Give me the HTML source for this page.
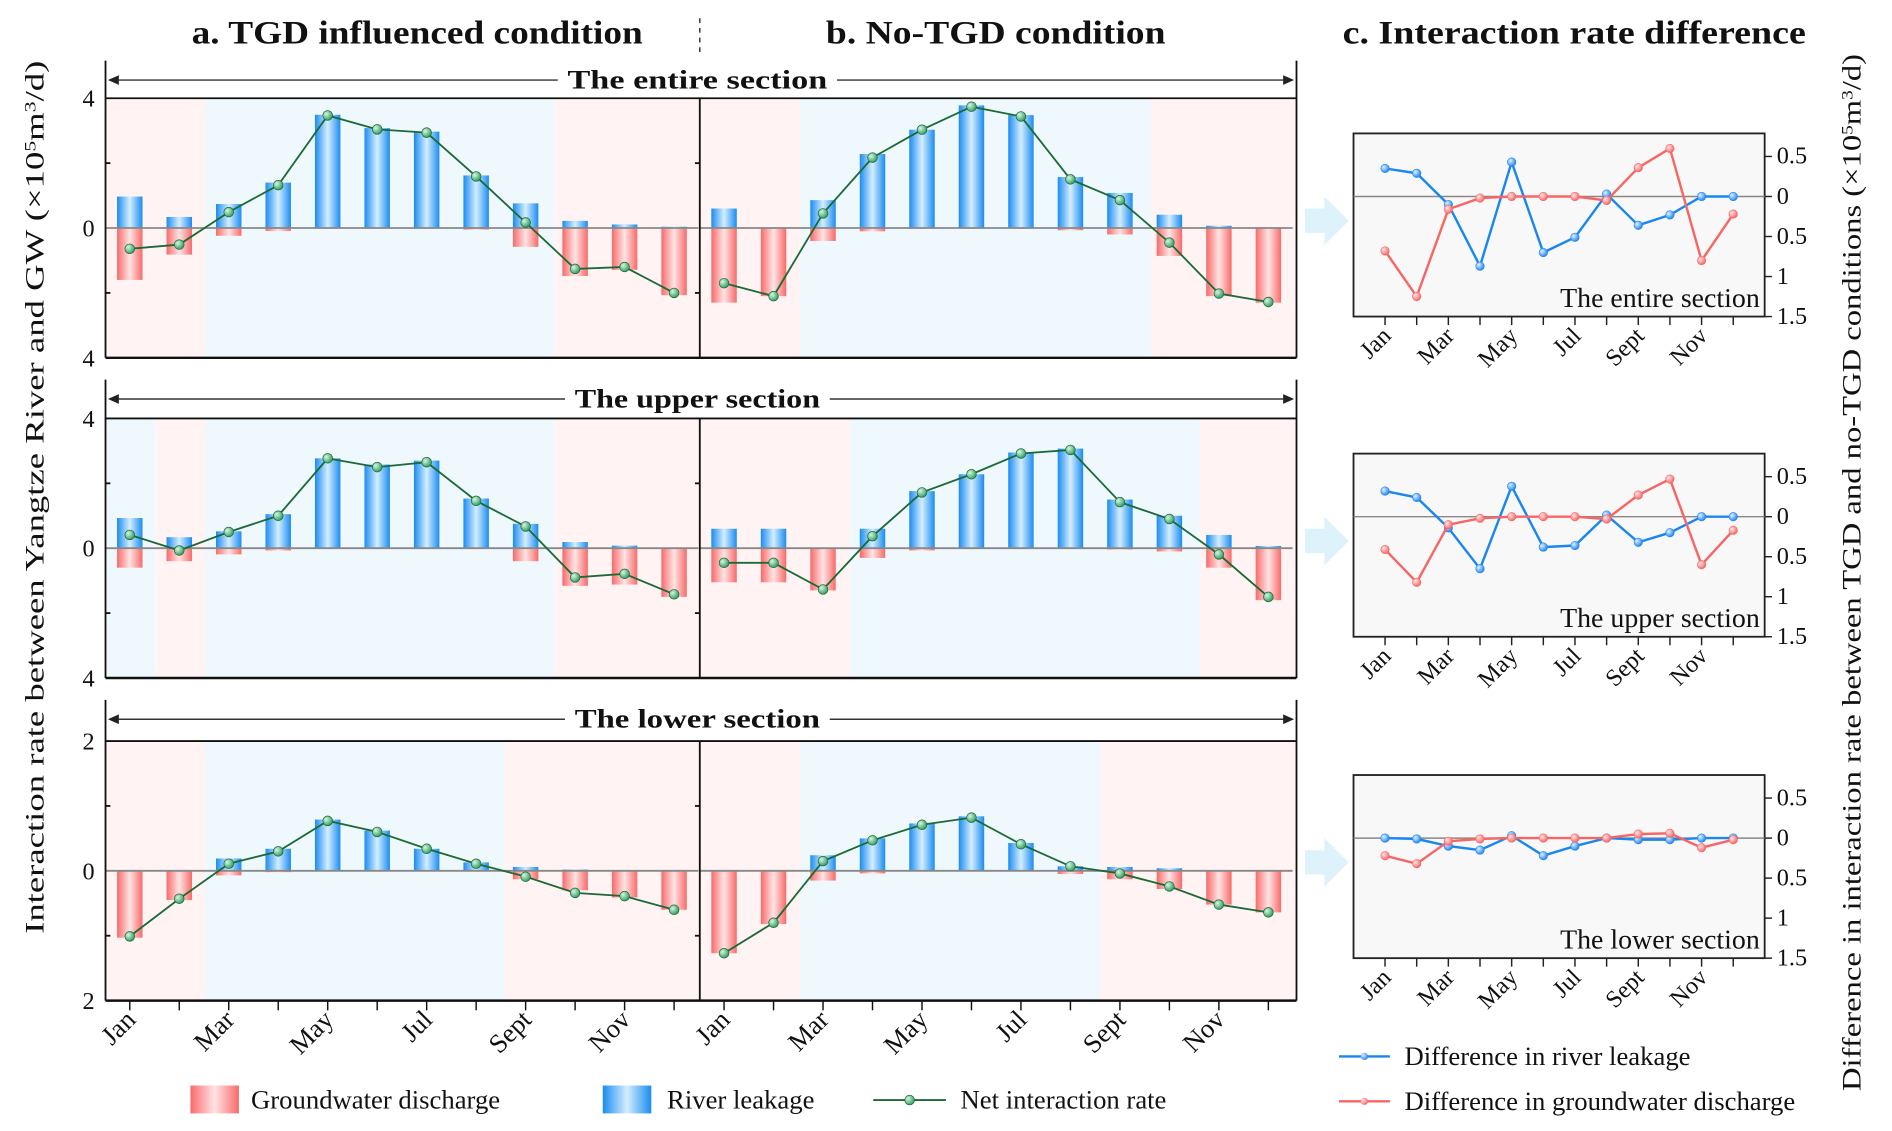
<!DOCTYPE html>
<html><head><meta charset="utf-8"><style>
html,body{margin:0;padding:0;background:#fff;}
svg{display:block;}
text{font-family:"Liberation Serif",serif;fill:#111;}
</style></head><body>
<svg id="chart" width="1892" height="1131" viewBox="0 0 1560 932.5" preserveAspectRatio="none" xmlns="http://www.w3.org/2000/svg">
<defs>
<linearGradient id="gBlue" x1="0" x2="1" y1="0" y2="0"><stop offset="0" stop-color="#1a8cf0"/><stop offset="0.5" stop-color="#d4eeff"/><stop offset="1" stop-color="#1a8cf0"/></linearGradient>
<linearGradient id="gPink" x1="0" x2="1" y1="0" y2="0"><stop offset="0" stop-color="#f86a6a"/><stop offset="0.5" stop-color="#ffe4e4"/><stop offset="1" stop-color="#f86a6a"/></linearGradient>
<radialGradient id="gDot" cx="0.35" cy="0.35" r="0.7"><stop offset="0" stop-color="#d8f5e4"/><stop offset="1" stop-color="#2a9a5a"/></radialGradient>
<radialGradient id="gDotB" cx="0.35" cy="0.35" r="0.7"><stop offset="0" stop-color="#e0f0ff"/><stop offset="1" stop-color="#1a80f0"/></radialGradient>
<radialGradient id="gDotR" cx="0.35" cy="0.35" r="0.7"><stop offset="0" stop-color="#ffe6e6"/><stop offset="1" stop-color="#f76060"/></radialGradient>
</defs>
<g id="root"></g>
</svg>
<script>
// ---------- data ----------
const months = ["Jan","Feb","Mar","Apr","May","Jun","Jul","Aug","Sept","Oct","Nov","Dec"];
const monthLabels = ["Jan","","Mar","","May","","Jul","","Sept","","Nov",""];
const leftTickLabelsBig = ["4","0","4"];
const leftTickLabelsSmall = ["2","0","2"];
const diffTickLabels = ["0.5","0","0.5","1","1.5"];
const diffTickValues = [0.5,0,-0.5,-1,-1.5];

const entireTgdRiver = [0.97,0.34,0.74,1.4,3.49,3.08,2.97,1.62,0.76,0.22,0.11,0.04];
const entireTgdGw = [-1.6,-0.82,-0.24,-0.09,-0.02,-0.02,-0.02,-0.05,-0.58,-1.48,-1.29,-2.07];
const entireTgdNet = [-0.64,-0.51,0.49,1.32,3.47,3.04,2.94,1.59,0.17,-1.26,-1.2,-2.0];
const entireNoRiver = [0.6,0.02,0.86,2.28,3.03,3.78,3.48,1.57,1.08,0.41,0.07,0.02];
const entireNoGw = [-2.3,-2.1,-0.4,-0.1,-0.02,-0.02,-0.02,-0.07,-0.2,-0.86,-2.1,-2.3];
const entireNoNet = [-1.7,-2.1,0.45,2.17,3.03,3.74,3.44,1.5,0.86,-0.45,-2.02,-2.28];

const upperTgdRiver = [0.93,0.34,0.52,1.05,2.77,2.58,2.7,1.53,0.75,0.19,0.08,0.02];
const upperTgdGw = [-0.6,-0.4,-0.19,-0.07,-0.02,-0.02,-0.02,-0.02,-0.4,-1.16,-1.12,-1.5];
const upperTgdNet = [0.41,-0.07,0.5,1.0,2.77,2.5,2.65,1.46,0.67,-0.9,-0.79,-1.42];
const upperNoRiver = [0.6,0.6,0.02,0.6,1.76,2.28,2.95,3.07,1.5,1.0,0.41,0.07];
const upperNoGw = [-1.05,-1.05,-1.3,-0.3,-0.07,-0.02,-0.02,-0.02,-0.04,-0.1,-0.6,-1.6];
const upperNoNet = [-0.45,-0.45,-1.27,0.37,1.72,2.28,2.92,3.03,1.42,0.9,-0.19,-1.5];

const lowerTgdRiver = [0,0,0.19,0.34,0.79,0.62,0.34,0.13,0.06,0.02,0.01,0];
const lowerTgdGw = [-1.03,-0.45,-0.07,-0.02,-0.01,-0.01,-0.01,-0.01,-0.13,-0.3,-0.41,-0.6];
const lowerTgdNet = [-1.01,-0.43,0.11,0.3,0.77,0.6,0.34,0.11,-0.09,-0.34,-0.39,-0.6];
const lowerNoRiver = [0,0,0.24,0.5,0.73,0.84,0.43,0.07,0.06,0.04,0.01,0];
const lowerNoGw = [-1.27,-0.82,-0.15,-0.04,0,0,0,-0.05,-0.13,-0.28,-0.52,-0.64];
const lowerNoNet = [-1.27,-0.8,0.15,0.47,0.71,0.82,0.41,0.07,-0.04,-0.24,-0.52,-0.64];

const entireDiffRiver = [0.35,0.29,-0.1,-0.87,0.43,-0.7,-0.51,0.03,-0.36,-0.23,0,0];
const entireDiffGw = [-0.68,-1.25,-0.16,-0.02,0,0,0,-0.05,0.36,0.6,-0.8,-0.22];
const upperDiffRiver = [0.32,0.24,-0.14,-0.65,0.38,-0.38,-0.36,0.02,-0.32,-0.2,0,0];
const upperDiffGw = [-0.41,-0.82,-0.1,-0.02,0,0,0,-0.03,0.27,0.47,-0.6,-0.17];
const lowerDiffRiver = [0,-0.01,-0.1,-0.15,0.03,-0.22,-0.1,0,-0.02,-0.02,0,0];
const lowerDiffGw = [-0.22,-0.32,-0.04,-0.01,0,0,0,0,0.05,0.06,-0.12,-0.02];

// ---------- helpers ----------
const NS = "http://www.w3.org/2000/svg";
const root = document.getElementById('root');
function mk(tag, attrs, parent, txt){
  const e = document.createElementNS(NS, tag);
  for (const k in attrs) e.setAttribute(k, attrs[k]);
  if (txt !== undefined) e.textContent = txt;
  (parent || root).appendChild(e);
  return e;
}
const L = 87, M = 577, R = 1069;
const step = 40.8;
const barW = 21;

function bg(g, x1, x2, top, bot, color){
  const r = mk('rect',{x:x1,y:top,width:x2-x1,height:bot-top,fill:color},g);
  
  
}

function drawPanel(name, x0, zero, unit, river, gw, net){
  const g = mk('g',{},root);
  
  
  const xs = i => x0 + i*step;
  const ys = v => zero - v*unit;
  for (let i=0;i<12;i++){
    const hr = Math.abs(ys(river[i]) - zero);
    const b = mk('rect',{x:xs(i)-barW/2,y:Math.min(ys(river[i]),zero),width:barW,height:hr,fill:'url(#gBlue)'},g);
    
    
    const hg = Math.abs(ys(gw[i]) - zero);
    const p = mk('rect',{x:xs(i)-barW/2,y:Math.min(ys(gw[i]),zero),width:barW,height:hg,fill:'url(#gPink)'},g);
    
    
  }
  const zl = mk('line',{x1:x0-20,x2:x0+11*step+20,y1:zero,y2:zero,stroke:'#888','stroke-width':1.5},g);
  
  
  const pts = net.map((v,i)=>xs(i)+','+ys(v)).join(' ');
  const pl = mk('polyline',{points:pts,fill:'none',stroke:'#1c6a35','stroke-width':1.5},g);
  
  
  net.forEach((v,i)=>{
    const c = mk('circle',{cx:xs(i),cy:ys(v),r:4,fill:'url(#gDot)',stroke:'#1c6a35','stroke-width':0.6},g);
    
    
  });
}

function drawRow(label, arrowY, top, zero, bot, bandsA, bandsB, ticks, unit, data){
  const g = mk('g',{},root);
  
  
  bandsA.forEach(b=>bg(g,b[0],b[1],top,bot,b[2]));
  bandsB.forEach(b=>bg(g,b[0],b[1],top,bot,b[2]));
  drawPanel('tgd-panel', 107, zero, unit, data[0], data[1], data[2]);
  drawPanel('no-tgd-panel', 597, zero, unit, data[3], data[4], data[5]);
  const fr = mk('g',{stroke:'#111','stroke-width':1.5},root);
  
  
  mk('line',{x1:L,x2:R,y1:top,y2:top},fr);
  mk('line',{x1:L,x2:R,y1:bot,y2:bot,'stroke-width':2},fr);
  mk('line',{x1:L,x2:L,y1:arrowY-16,y2:bot},fr);
  mk('line',{x1:R,x2:R,y1:arrowY-16,y2:bot},fr);
  mk('line',{x1:M,x2:M,y1:top,y2:bot},fr);
  mk('line',{x1:L,x2:L+4,y1:(top+zero)/2,y2:(top+zero)/2},fr);
  mk('line',{x1:L,x2:L+4,y1:(bot+zero)/2,y2:(bot+zero)/2},fr);
  mk('line',{x1:M,x2:M-4,y1:(top+zero)/2,y2:(top+zero)/2},fr);
  mk('line',{x1:M,x2:M-4,y1:(bot+zero)/2,y2:(bot+zero)/2},fr);
  const tw = label.length*11.9;
  const ar = mk('g',{stroke:'#333','stroke-width':1.2},root);
  
  
  mk('line',{x1:L+4,x2:575-tw/2-8,y1:arrowY,y2:arrowY},ar);
  mk('line',{x1:575+tw/2+8,x2:R-4,y1:arrowY,y2:arrowY},ar);
  mk('path',{d:`M${L+2},${arrowY} l9,-4 v8 z`,fill:'#222',stroke:'none'},ar);
  mk('path',{d:`M${R-2},${arrowY} l-9,-4 v8 z`,fill:'#222',stroke:'none'},ar);
  const t = mk('text',{x:575,y:arrowY+7,'text-anchor':'middle','font-size':22,'font-weight':'bold',textLength:tw,lengthAdjust:'spacingAndGlyphs'},root,label);
  
  
  [top,zero,bot].forEach((y,i)=>{
    const tl = mk('text',{x:78,y:y+7,'text-anchor':'end','font-size':20},root,ticks[i]);
    
    
  });
}

const P='#fff3f3', B='#eff8fd';
drawRow('The entire section',66,81,188,295,[[87,169,P],[169,457,B],[457,577,P]],[[577,660,P],[660,949,B],[949,1069,P]],leftTickLabelsBig,26.75,
  [entireTgdRiver,entireTgdGw,entireTgdNet,entireNoRiver,entireNoGw,entireNoNet]);
drawRow('The upper section',329,345,452,559,[[87,128,B],[128,169,P],[169,457,B],[457,577,P]],[[577,701,P],[701,989,B],[989,1069,P]],leftTickLabelsBig,26.75,
  [upperTgdRiver,upperTgdGw,upperTgdNet,upperNoRiver,upperNoGw,upperNoNet]);
drawRow('The lower section',593,611,718,825,[[87,169,P],[169,416,B],[416,577,P]],[[577,660,P],[660,907,B],[907,1069,P]],leftTickLabelsSmall,53.5,
  [lowerTgdRiver,lowerTgdGw,lowerTgdNet,lowerNoRiver,lowerNoGw,lowerNoNet]);

[107,597].forEach(x0=>{
  for(let i=0;i<12;i++){
    const x = x0+i*step;
    const tk = mk('line',{x1:x,x2:x,y1:825,y2:833,stroke:'#111','stroke-width':1.2});
    
    
    if(monthLabels[i]){
      const t = mk('text',{x:x+6,y:842,'text-anchor':'end','font-size':22,transform:`rotate(-45 ${x+6} 842)`},root,monthLabels[i]);
      
      
    }
  }
});

[['a. TGD influenced condition',344,372],['b. No-TGD condition',821,280],['c. Interaction rate difference',1298,382]].forEach(d=>{
  const t = mk('text',{x:d[1],y:36,'text-anchor':'middle','font-size':27,'font-weight':'bold',textLength:d[2],lengthAdjust:'spacingAndGlyphs'},root,d[0]);
  
  
});
const dv = mk('line',{x1:577,x2:577,y1:15,y2:46,stroke:'#333','stroke-width':1.2,'stroke-dasharray':'4,4'});



const yt = mk('text',{x:36,y:410,'text-anchor':'middle','font-size':22,transform:'rotate(-90 36 410)',textLength:720,lengthAdjust:'spacingAndGlyphs'},root);


yt.innerHTML = 'Interaction  rate  between  Yangtze River and GW (×10<tspan baseline-shift="super" font-size="13">5</tspan>m<tspan baseline-shift="super" font-size="13">3</tspan>/d)';
const yt2 = mk('text',{x:1534,y:472,'text-anchor':'middle','font-size':22,transform:'rotate(-90 1534 472)',textLength:855,lengthAdjust:'spacingAndGlyphs'},root);


yt2.innerHTML = 'Difference in interaction rate between TGD and no-TGD conditions (×10<tspan baseline-shift="super" font-size="13">5</tspan>m<tspan baseline-shift="super" font-size="13">3</tspan>/d)';

function drawDiff(label, zero, blue, red){
  const g = mk('g',{},root);
  
  
  const unit = 66, x0 = 1142, st = 26.1;
  const top = zero-52, bot = zero+99;
  const xs = i=>x0+i*st, ys = v=>zero-v*unit;
  mk('rect',{x:1116,y:top,width:339,height:bot-top,fill:'#f8f8f8',stroke:'#222','stroke-width':1.5},g);
  mk('line',{x1:1116,x2:1455,y1:zero,y2:zero,stroke:'#888','stroke-width':1.2},g);
  diffTickValues.forEach((v,i)=>{
    mk('line',{x1:1455,x2:1461,y1:ys(v),y2:ys(v),stroke:'#222','stroke-width':1.2},g);
    const t = mk('text',{x:1465,y:ys(v)+6,'font-size':20},g,diffTickLabels[i]);
    
    
  });
  for(let i=0;i<12;i++){
    mk('line',{x1:xs(i),x2:xs(i),y1:bot,y2:bot+7,stroke:'#222','stroke-width':1.2},g);
    if(monthLabels[i]){
      const t = mk('text',{x:xs(i)+6,y:bot+17,'text-anchor':'end','font-size':20,transform:`rotate(-45 ${xs(i)+6} ${bot+17})`},g,monthLabels[i]);
      
      
    }
  }
  [[blue,'#1a86f0','url(#gDotB)','river-leakage-difference'],[red,'#f76565','url(#gDotR)','groundwater-discharge-difference']].forEach(s=>{
    const pl = mk('polyline',{points:s[0].map((v,i)=>xs(i)+','+ys(v)).join(' '),fill:'none',stroke:s[1],'stroke-width':2},g);
    
    
    s[0].forEach((v,i)=>{
      const c = mk('circle',{cx:xs(i),cy:ys(v),r:3.5,fill:s[2],stroke:s[1],'stroke-width':0.5},g);
      
      
    });
  });
  const t = mk('text',{x:1451,y:bot-8,'text-anchor':'end','font-size':23},g,label);
  
  
  const a = mk('path',{d:`M1076,${zero+10} h16 v-10 l20,20 l-20,20 v-10 h-16 z`,fill:'#ddf2fb'},root);
  
  
}
drawDiff('The entire section',162,entireDiffRiver,entireDiffGw);
drawDiff('The upper section',426,upperDiffRiver,upperDiffGw);
drawDiff('The lower section',691,lowerDiffRiver,lowerDiffGw);

function legend(){
  const g = mk('g',{},root);
  
  
  const s1 = mk('rect',{x:157,y:895,width:40,height:23,fill:'url(#gPink)'},g);
  
  
  mk('text',{x:207,y:914,'font-size':22},g,'Groundwater discharge');
  const s2 = mk('rect',{x:497,y:895,width:40,height:23,fill:'url(#gBlue)'},g);
  
  
  mk('text',{x:550,y:914,'font-size':22},g,'River leakage');
  const s3 = mk('line',{x1:720,x2:780,y1:907,y2:907,stroke:'#1c6a35','stroke-width':1.5},g);
  
  
  mk('circle',{cx:750,cy:907,r:4,fill:'url(#gDot)',stroke:'#1c6a35','stroke-width':0.6},g);
  mk('text',{x:792,y:914,'font-size':22},g,'Net interaction rate');
  const s4 = mk('line',{x1:1104,x2:1146,y1:871,y2:871,stroke:'#1a86f0','stroke-width':2},g);
  
  
  mk('circle',{cx:1125,cy:871,r:3,fill:'url(#gDotB)'},g);
  mk('text',{x:1158,y:878,'font-size':22},g,'Difference in river leakage');
  const s5 = mk('line',{x1:1104,x2:1146,y1:908,y2:908,stroke:'#f76565','stroke-width':2},g);
  
  
  mk('circle',{cx:1125,cy:908,r:3,fill:'url(#gDotR)'},g);
  mk('text',{x:1158,y:915,'font-size':22},g,'Difference in groundwater discharge');
}
legend();
</script>
</body></html>
